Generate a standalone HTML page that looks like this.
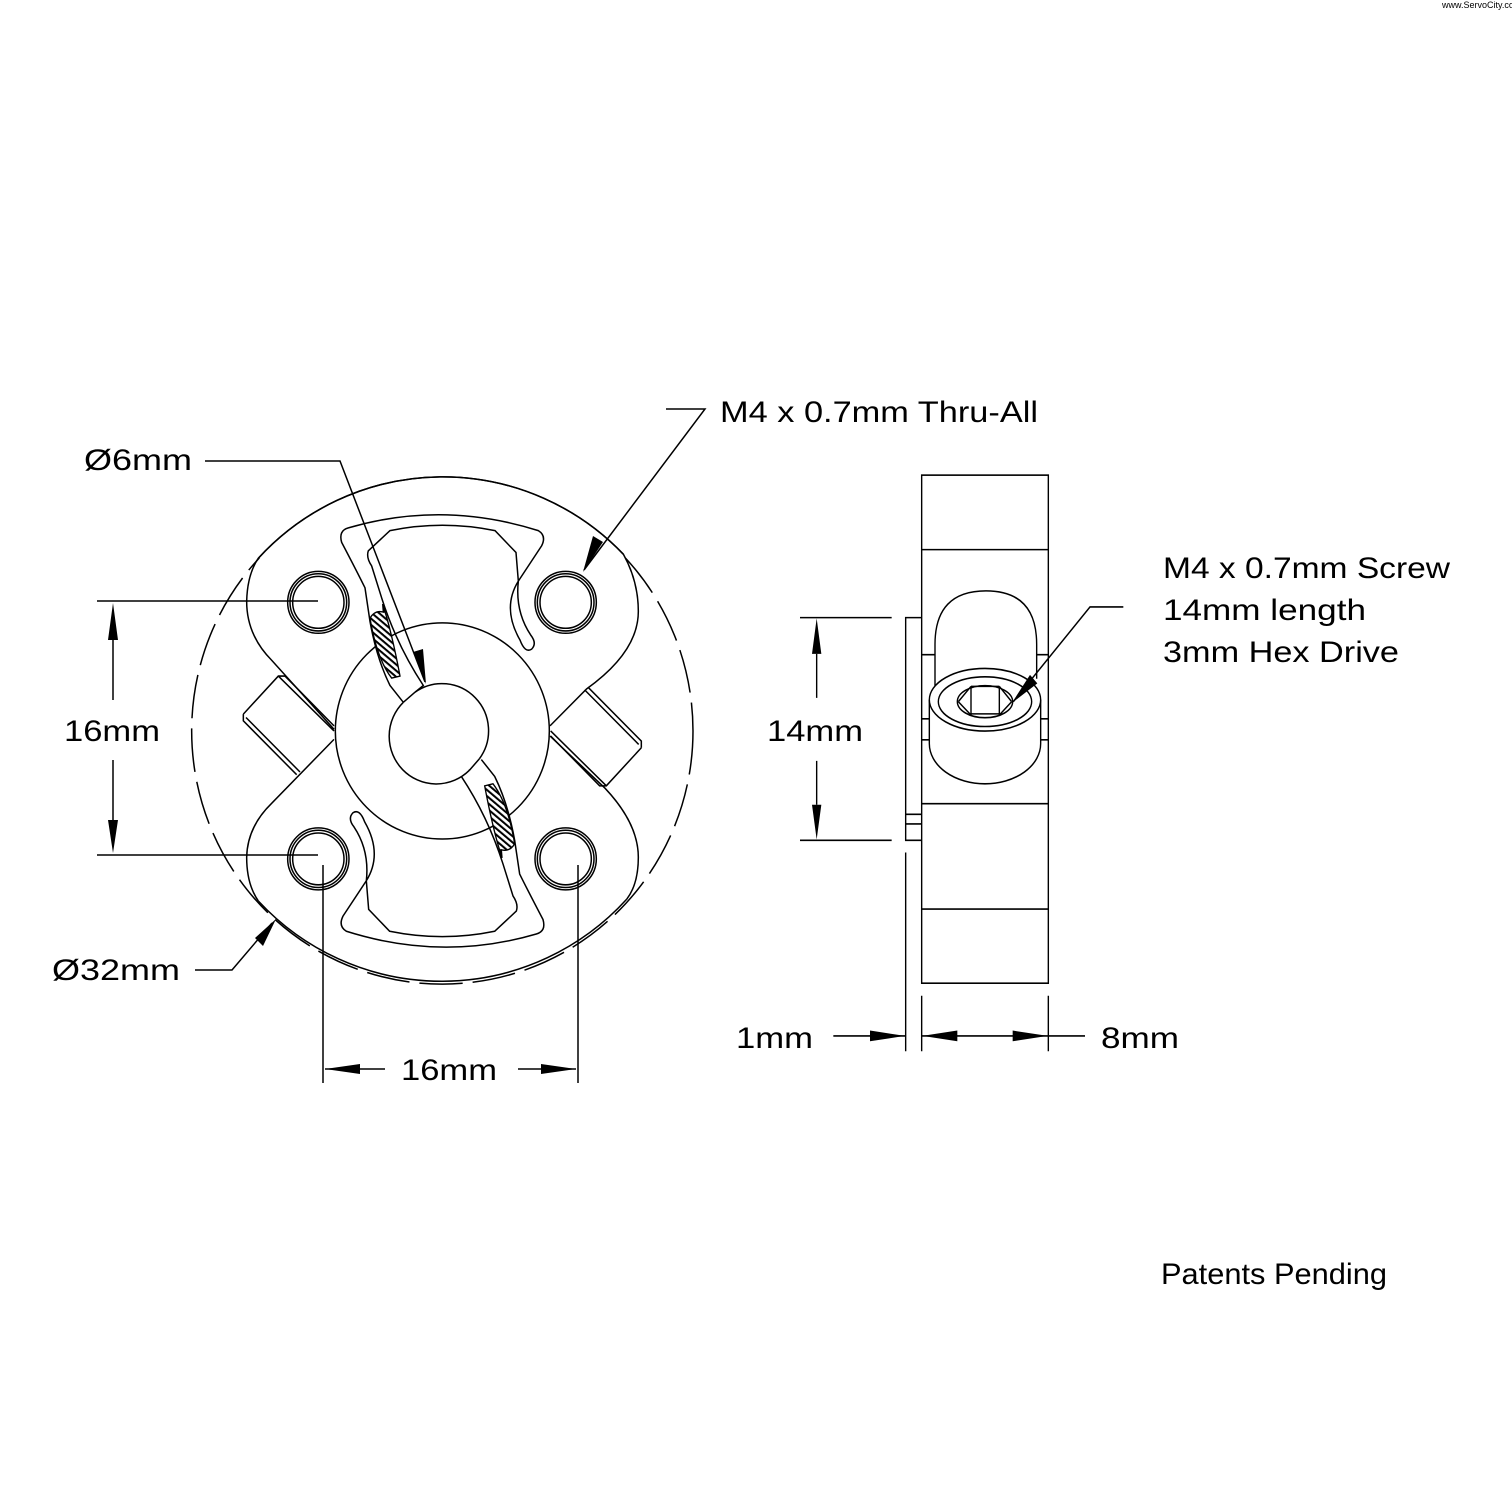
<!DOCTYPE html>
<html><head><meta charset="utf-8"><style>
html,body{margin:0;padding:0;background:#fff;}
svg{display:block}
text{font-family:"Liberation Sans","DejaVu Sans",sans-serif;fill:#000}
</style></head><body>
<svg width="1512" height="1512" viewBox="0 0 1512 1512" xmlns="http://www.w3.org/2000/svg">
<defs>
<pattern id="h" width="14" height="14" patternUnits="userSpaceOnUse" patternTransform="rotate(40)">
<rect width="14" height="14" fill="#fff"/><rect width="14" height="6" fill="#000"/></pattern>
</defs>
<text x="1442" y="8" font-size="9" fill="#555">www.ServoCity.com</text>

<!-- FRONT VIEW -->
<g transform="translate(190,470) scale(0.33333,0.3367)" fill="none" stroke="#000" stroke-width="4.5">
  <circle cx="757" cy="775" r="752" stroke-dasharray="130 30" />
  <path d="M205,262 A754,754 0 0 1 1300,250" fill="#fff"/>
  <path d="M1310,1275 A754,754 0 0 1 205,1280"/>
  <path d="M205,262 A754,754 0 0 1 1300,250 Q1345,330 1345,420 Q1345,540 1190,650 L1080,760 M1080,790 L1245,945 Q1345,1050 1345,1150 Q1345,1230 1310,1275 M205,1280 Q170,1230 170,1150 Q172,1060 245,990 L432,800 M432,770 L245,565 Q170,490 170,390 Q172,310 205,262"/>
  <g id="tab"><path d="M160,725 L265,612 L285,612 L432,760 M160,725 L160,745 L320,905 M168,735 L330,897 M265,612 L432,775"/></g>
  <use href="#tab" transform="rotate(180 757 775)"/>
  <circle cx="757" cy="775" r="321" fill="#fff"/>
  <g id="pk">
    <path d="M640,690 L600,640 Q560,560 540,450 L525,350 Q500,300 455,215 Q445,180 475,172 Q757,90 1045,180 Q1070,195 1055,225 L985,330 Q935,410 990,505 Q1005,545 1025,532 Q1042,515 1022,490 Q975,420 985,330 L978,245 L915,180 Q757,148 600,180 L535,240 Q528,260 545,285 L575,380 Q620,520 700,640 L675,660"/>
    <path d="M540,440 Q555,415 580,422 L578,398 Q605,480 630,612 L605,618 Q560,560 540,440Z" fill="url(#h)" stroke-width="4"/>
  </g>
  <use href="#pk" transform="rotate(180 757 775)"/>
  <path d="M675,660 A140,140 0 0 1 868,858 M838,892 A140,140 0 0 1 640,690" fill="#fff"/>
  <path d="M640,690 L675,660 M868,858 L838,892"/>
  <g id="ho"><circle cx="385" cy="393" r="92"/><circle cx="385" cy="393" r="85"/><circle cx="385" cy="393" r="77"/></g>
  <use href="#ho" transform="translate(742,0)"/>
  <use href="#ho" transform="translate(0,762)"/>
  <use href="#ho" transform="translate(742,762)"/>
</g>

<!-- SIDE VIEW -->
<g transform="translate(790,461) scale(0.33333,0.382)" fill="none" stroke="#000" stroke-width="4.2">
  <rect x="395" y="37" width="380" height="1330"/>
  <path d="M395,232 H775 M395,897 H775 M395,1173 H775"/>
  <path d="M395,410 H347 V993 H395 M347,925 H395 M347,950 H395"/>
  <path d="M395,507 H435 M740,507 H775 M395,675 H420 M750,675 H775 M395,730 H420 M750,730 H775"/>
  <path d="M435,590 V480 Q435,340 588,340 Q740,340 740,480 V570"/>
  <path d="M418,625 V740 A167,105 0 0 0 752,740 V625" fill="#fff"/>
  <ellipse cx="585" cy="625" rx="167" ry="82" fill="#fff"/>
  <ellipse cx="585" cy="630" rx="140" ry="65"/>
  <ellipse cx="585" cy="630" rx="83" ry="42"/>
  <path d="M543,590 V665 M628,590 V665 M543,590 H628 M543,662 H628 M505,630 L543,590 M665,630 L628,590 M505,630 L543,665 M665,630 L628,665"/>
  <path d="M30,410 H305 M30,993 H305 M80,505 V620 M80,785 V900"/>
  <path d="M80,412 L66,505 H94Z M80,991 L66,900 H94Z" fill="#000" stroke="none"/>
  <path d="M347,1025 V1545 M395,1400 V1545 M775,1400 V1545 M130,1505 H345 M397,1505 H885"/>
  <path d="M345,1505 L240,1491 V1519Z M397,1505 L502,1491 V1519Z M773,1505 L668,1491 V1519Z" fill="#000" stroke="none"/>
  <path d="M1000,382 H900 L670,630"/>
  <path d="M665,634 L720,560 L742,582Z" fill="#000" stroke="none"/>
</g>

<g stroke="#000" stroke-width="1.5" fill="none">
  <path d="M97,601 H318 M97,855 H318 M113,640 V700 M113,760 V820"/>
  <path d="M323,865 V1083 M578,865 V1083 M325,1069 H385 M518,1069 H576"/>
  <path d="M205,461 H340 L425,682"/>
  <path d="M666,409 H705 L584,570"/>
  <path d="M195,970 H232 L272,923"/>
</g>
<g fill="#000">
  <path d="M113,603 L108,640 H118Z M113,853 L108,820 H118Z"/>
  <path d="M325,1069 L360,1064 V1074Z M576,1069 L541,1064 V1074Z"/>
  <path d="M426,684 L413,652 L423,649Z"/>
  <path d="M583,572 L593,536 L603,542Z"/>
  <path d="M276,919 L263,946 L255,938Z"/>
</g>

<g font-size="30">
<text x="84" y="470" textLength="108" lengthAdjust="spacingAndGlyphs">Ø6mm</text>
<text x="720" y="422" textLength="318" lengthAdjust="spacingAndGlyphs">M4 x 0.7mm Thru-All</text>
<text x="64" y="741" textLength="96" lengthAdjust="spacingAndGlyphs">16mm</text>
<text x="52" y="980" textLength="128" lengthAdjust="spacingAndGlyphs">Ø32mm</text>
<text x="401" y="1080" textLength="96" lengthAdjust="spacingAndGlyphs">16mm</text>
<text x="767" y="741" textLength="96" lengthAdjust="spacingAndGlyphs">14mm</text>
<text x="736" y="1048" textLength="77" lengthAdjust="spacingAndGlyphs">1mm</text>
<text x="1101" y="1048" textLength="78" lengthAdjust="spacingAndGlyphs">8mm</text>
<text x="1163" y="578" textLength="287" lengthAdjust="spacingAndGlyphs">M4 x 0.7mm Screw</text>
<text x="1163" y="620" textLength="203" lengthAdjust="spacingAndGlyphs">14mm length</text>
<text x="1163" y="662" textLength="236" lengthAdjust="spacingAndGlyphs">3mm Hex Drive</text>
<text x="1161" y="1284" textLength="226" lengthAdjust="spacingAndGlyphs">Patents Pending</text>
</g>
</svg>
</body></html>
